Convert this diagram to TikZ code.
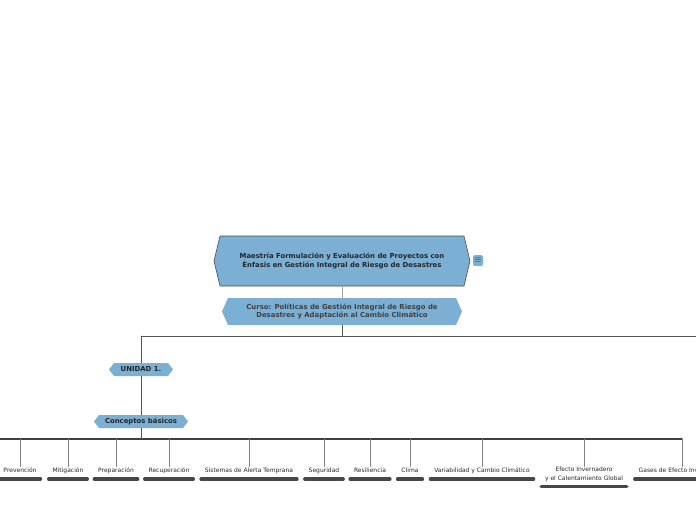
\documentclass[tikz,border=0pt]{standalone}
\usepackage{fontspec}
\setmainfont{DejaVu Sans}
\usepackage{xcolor}
\usetikzlibrary{shapes.symbols,positioning}

\definecolor{topicblue}{HTML}{7BAFD4}
\definecolor{linkgray}{HTML}{555555}

\begin{document}
\begin{tikzpicture}[
		x=1pt,
		y=-1pt,
		line cap=round,
		line join=round,
		topic/.style={
			signal,
			signal to=west and east,
			fill=topicblue,
			inner sep=0pt,
			align=center,
			text=black!85,
			font=\fontsize{6.9}{8.2}\selectfont\bfseries
		},
		leafbase/.style={
			anchor=north,
			inner xsep=5pt,
			inner ysep=0pt,
			align=center,
			text=black!85,
			font=\fontsize{6}{8.8}\selectfont
		},
		leaf/.style={leafbase, text height=5.5pt, text depth=1.6pt},
		link/.style={draw=linkgray, line width=0.8pt},
		twig/.style={draw=black!50, line width=0.8pt},
		bar/.style={draw=black!72, line width=3.2pt, shorten <=1.2pt, shorten >=1.2pt}
		]
		
		% frame
		\useasboundingbox (0,0) rectangle (696,520);
		\clip (0,0) rectangle (696,520);
		
		% central topic
		\node[topic, draw=black!70, line width=0.6pt, signal pointer angle=153,
			minimum width=256, minimum height=50] (main) at (342,261)
			{Maestría Formulación y Evaluación de Proyectos con\\Énfasis en Gestión Integral de Riesgo de Desastres};
		\node[fill=topicblue, rounded corners=1.5pt, inner sep=0pt,
			minimum width=10, minimum height=11, font=\fontsize{9}{9}\selectfont,
			text=black!85] (menu) at (478,260.5) {$\equiv$};
		
		% course
		\node[topic, signal pointer angle=132, minimum width=240, minimum height=27,
			text=black!75] (curso) at (342,311.5)
			{Curso: Políticas de Gestión Integral de Riesgo de\\Desastres y Adaptación al Cambio Climático};
		\draw[draw=black!35, line width=0.8pt] (main.south) -- (curso.north);
		
		% unit and concepts
		\node[topic, signal pointer angle=105, minimum width=64, minimum height=13] (unidad) at (141,369.5) {UNIDAD 1.};
		\node[topic, signal pointer angle=105, minimum width=94, minimum height=13] (basicos) at (141,421.5) {Conceptos básicos};
		
		\coordinate (trunk) at (0,336);
		\coordinate (trunkR) at (700,336);
		\draw[link] (curso.south) -- (curso.south |- trunk);
		\draw[link] (unidad.north |- trunk) -- (trunkR);
		\draw[link] (unidad.north |- trunk) -- (unidad.north);
		\draw[link] (unidad.south) -- (basicos.north);
		
		% leaves
		\node[leaf] (prev) at (20,466.5)  {Prevención};
		\node[leaf] (miti) at (68,466.5)  {Mitigación};
		\node[leaf] (prep) at (116,466.5) {Preparación};
		\node[leaf] (recu) at (169,466.5) {Recuperación};
		\node[leaf] (sat)  at (249,466.5) {Sistemas de Alerta Temprana};
		\node[leaf] (segu) at (324,466.5) {Seguridad};
		\node[leaf] (resi) at (370,466.5) {Resiliencia};
		\node[leaf] (clim) at (410,466.5) {Clima};
		\node[leaf] (vari) at (482,466.5) {Variabilidad y Cambio Climático};
		\node[leafbase] (efec) at (584,466.5) {Efecto Invernadero\\y el Calentamiento Global};
		\node[leaf] (gase) at (682,466.5) {Gases de Efecto Invernadero};
		
		% bus
		\coordinate (busL) at (-10,439);
		\draw[draw=black!75, line width=1.1pt] (busL) -- (gase.north |- busL);
		\draw[link] (basicos.south) -- (basicos.south |- busL);
		
		\foreach \n in {prev,miti,prep,recu,sat,segu,resi,clim,vari,efec,gase}{
			\draw[twig] (\n.north |- busL) -- (\n.north);
			\draw[bar] ([yshift=-5pt]\n.south west) -- ([yshift=-5pt]\n.south east);
		}
	\end{tikzpicture}
\end{document}
